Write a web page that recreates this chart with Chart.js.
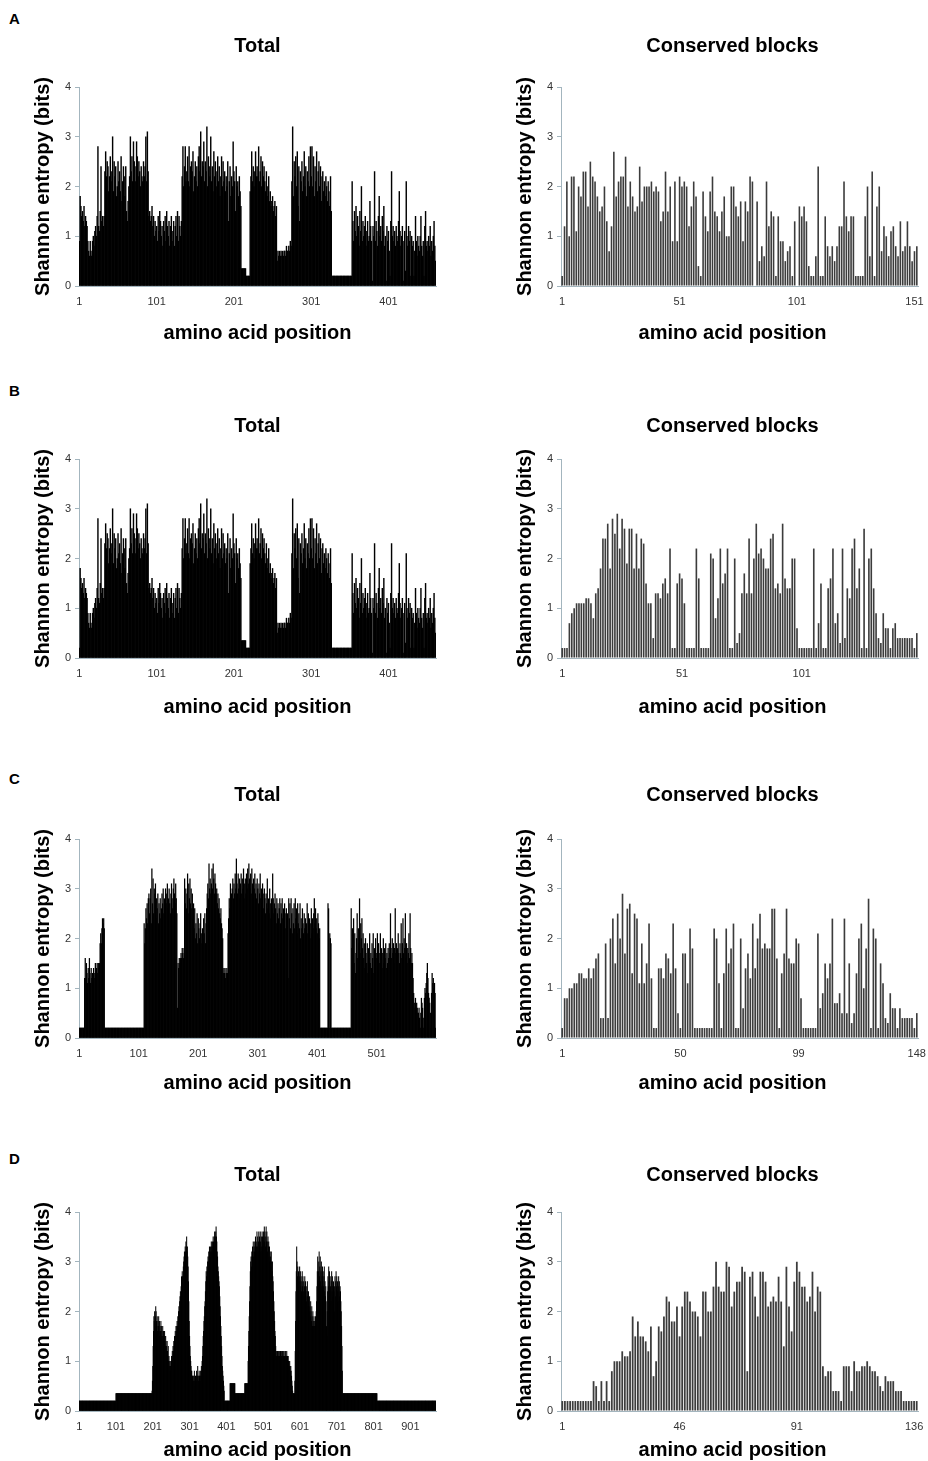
<!DOCTYPE html>
<html>
<head>
<meta charset="utf-8">
<script src="https://cdn.jsdelivr.net/npm/chart.js@4.4.0/dist/chart.umd.min.js"></script>
<style>
    html, body { margin: 0; padding: 0; background: #fff; }
    body { width: 928px; height: 1461px; position: relative; overflow: hidden; font-family: "Liberation Sans", Arial, sans-serif; }
    .panel-letter { position: absolute; left: 9px; font-size: 15px; font-weight: bold; line-height: 15px; }
    canvas { position: absolute; }
</style>
</head>
<body>
<div class="panel-letter" style="top:11px">A</div>
<div class="panel-letter" style="top:383px">B</div>
<div class="panel-letter" style="top:771px">C</div>
<div class="panel-letter" style="top:1151px">D</div>

<script>
// Shannon entropy per alignment position, in tenths of a bit
const totalA = [
    9,18,16,14,15,13,16,12,14,13, 12,9,7,6,9,7,6,9,10,8, 11,12,10,14,28,12,11,15,24,13,
    14,12,14,23,27,22,25,24,19,22, 26,21,23,30,19,25,22,24,18,20, 25,21,23,19,26,17,21,24,22,18,
    24,15,13,17,20,22,30,23,26,21, 29,25,24,21,29,26,22,25,23,20, 24,22,21,25,22,24,30,21,31,23,
    14,15,13,14,16,12,14,10,13,11, 12,9,14,11,15,13,10,12,8,13, 11,14,9,15,12,10,13,8,12,14,
    9,11,13,8,12,14,10,15,9,14, 12,10,13,22,28,20,24,28,21,23, 26,21,28,20,24,25,23,27,19,22,
    25,21,24,20,26,28,23,31,22,25, 24,29,21,25,23,32,20,26,24,22, 30,21,24,19,27,22,25,20,23,26,
    21,24,18,22,26,20,25,21,23,19, 22,20,25,13,21,24,18,22,20,29, 23,21,15,24,20,21,18,22,19,16,
    3.5,3.5,3.5,3.5,3.5,3.5,2,2,2,2, 2,19,22,27,21,24,20,23,27,22, 24,22,28,21,23,26,20,25,22,24,
    21,19,23,20,18,22,17,19,16,17, 18,15,16,17,14,16,5,7,6,7, 6,7,6,7,6,7,7,6,8,7,
    7,8,7,9,8,21,32,18,25,22, 26,20,27,16,24,13,23,21,25,19, 22,27,20,24,18,23,21,26,20,28,
    22,28,20,26,18,24,21,27,19,23, 25,20,24,17,22,23,19,21,18,22, 20,17,21,19,16,22,15,2,2,2,
    2,2,2,2,2,2,2,2,2,2, 2,2,2,2,2,2,2,2,2,2, 2,2,2,21,13,9,15,11,16,10,
    14,12,8,15,11,20,9,13,10,12, 14,8,11,13,9,10,17,12,9,1, 12,10,23,9,13,11,8,14,18,10,
    12,9,14,11,16,8,10,1,12,9, 11,7,2,13,23,10,12,9,11,8, 12,10,9,13,19,11,8,10,12,1,
    9,11,3,21,10,8,12,9,11,2, 10,8,9,2,7,14,9,6,10,8, 7,10,14,8,6,9,2,12,15,8,
    9,7,10,8,12,6,9,7,10,13, 8,5
];
const consA = [
    2,12,21,10,22,22,11,20,18,23, 23,16,25,22,21,18,15,16,20,13, 7,12,27,18,21,22,22,26,16,21,
    18,15,16,24,17,20,20,20,21,19, 20,19,13,15,23,15,20,9,21,9, 22,20,21,20,12,16,21,18,4,2,
    19,14,11,19,22,15,14,11,15,18, 10,10,20,20,16,14,17,9,17,15, 22,21,0,17,5,8,6,21,12,15,
    14,2,14,9,9,5,7,8,2,13, 0,16,14,16,13,4,2,2,6,24, 2,2,14,8,6,8,5,8,12,12,
    21,14,11,14,14,2,2,2,2,14, 20,6,23,2,16,20,7,12,10,6, 11,12,8,6,13,7,8,13,8,5,
    7,8
];
// panel B uses the same full-length alignment as A, only position 1 differs
const totalB = [2].concat(totalA.slice(1));
const consB = [
    2,2,2,7,9,10,11,11,11,11, 12,12,11,8,13,14,18,24,24,27, 18,28,25,29,22,28,26,19,26,26,
    18,25,18,24,23,15,11,11,4,13, 13,12,15,16,13,22,2,2,15,17, 16,11,2,2,2,2,22,16,2,2,
    2,2,21,20,8,12,22,15,17,22, 2,2,20,3,5,13,17,13,24,13, 20,27,21,22,20,18,18,24,25,14,
    15,13,27,16,14,14,20,20,6,2, 2,2,2,2,2,22,2,7,15,2, 2,14,16,22,7,9,3,22,4,14,
    12,22,24,14,18,2,26,2,20,22, 14,9,4,3,9,6,6,2,6,7, 4,4,4,4,4,4,4,2,5
];
const totalC = [
    2,2,2,2,2,2,2,2,2,12, 16,12,15,13,11,14,12,16,13,11, 14,12,13,11,14,13,12,15,13,14,
    15,13,15,14,15,19,21,19,22,24, 23,24,22,2,2,2,2,2,2,2, 2,2,2,2,2,2,2,2,2,2,
    2,2,2,2,2,2,2,2,2,2, 2,2,2,2,2,2,2,2,2,2, 2,2,2,2,2,2,2,2,2,2,
    2,2,2,2,2,2,2,2,2,2, 2,2,2,2,2,2,2,2,2,23, 19,22,26,24,27,23,28,29,25,28,
    30,23,34,27,32,25,30,29,31,24, 28,26,29,23,27,25,28,24,26,29, 27,30,25,28,26,30,27,29,31,26,
    28,30,27,25,29,31,28,26,30,32, 29,27,31,28,25,6,15,14,16,15, 16,17,16,18,17,16,18,32,27,30,
    26,29,33,25,31,28,32,27,30,26, 29,24,27,22,26,20,23,21,25,19, 24,22,20,23,25,21,19,22,20,24,
    21,25,19,23,26,29,31,28,35,30, 32,29,31,34,30,35,32,29,33,31, 29,30,27,29,26,28,25,24,26,23,
    22,20,13,14,13,14,12,13,14,13, 21,24,28,26,31,27,29,30,32,28, 31,29,33,30,36,31,29,33,30,32,
    28,31,33,29,32,30,34,28,31,32, 29,33,30,34,31,35,32,30,33,29, 34,31,28,32,30,33,29,31,28,32,
    30,27,31,29,33,28,30,27,31,29, 26,30,28,25,29,27,32,26,28,25, 30,27,24,28,26,33,28,25,27,29,
    26,23,28,25,27,24,26,28,23,27, 25,28,24,26,23,27,25,22,26,24, 25,12,28,24,27,22,28,25,21,26,
    23,27,22,28,24,26,21,27,23,25, 22,27,20,24,22,26,23,21,25,22, 24,20,23,27,21,25,22,24,20,23,
    26,21,24,22,25,28,23,26,22,24, 21,25,23,20,22,2,2,2,2,2, 2,2,2,2,2,2,2,2,27,26,
    2,21,20,19,2,2,2,2,2,2, 2,2,2,2,2,2,2,2,2,2, 2,2,2,2,2,2,2,2,2,2,
    2,2,2,2,2,2,2,26,18,22, 19,24,15,21,13,17,20,25,16,22, 19,28,17,23,20,24,18,21,16,19,
    14,20,17,15,19,13,18,16,21,15, 17,14,19,16,21,13,18,15,20,17, 16,21,14,19,17,15,21,16,18,14,
    17,20,15,18,16,19,14,17,15,18, 16,19,17,25,18,16,20,17,19,15, 18,26,17,19,16,18,21,17,15,19,
    17,23,16,19,24,17,20,18,25,16, 19,15,18,17,21,16,25,18,15,17, 15,12,9,7,6,8,6,7,6,5,
    5,6,4,2,5,8,7,6,2,4, 8,10,9,11,13,15,12,9,8,7, 5,2,9,13,11,12,10,11,9,2
];
const consC = [
    2,8,8,10,10,11,11,13,13,12, 12,14,12,14,16,17,4,4,19,4, 20,24,15,25,20,29,17,26,27,13,
    25,24,11,19,11,15,23,12,2,2, 14,14,12,17,16,13,23,14,5,2, 17,17,11,22,18,2,2,2,2,2,
    2,2,2,22,20,11,2,13,22,15, 18,23,2,2,20,6,14,17,12,23, 14,20,25,18,19,18,18,26,26,16,
    2,13,17,26,16,15,15,20,19,8, 2,2,2,2,2,2,21,6,9,15, 12,15,24,7,7,9,5,24,5,15,
    3,5,13,20,23,10,18,28,2,22, 20,2,15,11,4,3,9,6,6,2, 6,4,4,4,4,4,2,5
];
const totalD = [
    2,2,2,2,2,2,2,2,2,2, 2,2,2,2,2,2,2,2,2,2, 2,2,2,2,2,2,2,2,2,2,
    2,2,2,2,2,2,2,2,2,2, 2,2,2,2,2,2,2,2,2,2, 2,2,2,2,2,2,2,2,2,2,
    2,2,2,2,2,2,2,2,2,2, 2,2,2,2,2,2,2,2,2,2, 2,2,2,2,2,2,2,2,2,2,
    2,2,2,2,2,2,2,2,2,2,
    3.5,3.5,3.5,3.5,3.5,3.5,3.5,3.5,3.5,3.5, 3.5,3.5,3.5,3.5,3.5,3.5,3.5,3.5,3.5,3.5,
    3.5,3.5,3.5,3.5,3.5,3.5,3.5,3.5,3.5,3.5, 3.5,3.5,3.5,3.5,3.5,3.5,3.5,3.5,3.5,3.5,
    3.5,3.5,3.5,3.5,3.5,3.5,3.5,3.5,3.5,3.5, 3.5,3.5,3.5,3.5,3.5,3.5,3.5,3.5,3.5,3.5,
    3.5,3.5,3.5,3.5,3.5,3.5,3.5,3.5,3.5,3.5, 3.5,3.5,3.5,3.5,3.5,3.5,3.5,3.5,3.5,3.5,
    3.5,3.5,3.5,3.5,3.5,3.5,3.5,3.5,3.5,3.5, 3.5,3.5,3.5,3.5,3.5,3.5,3.5,3.5,4,6,
    9,13,16,19,18,20,17,19,21,20, 18,17,19,16,18,17,19,16,18,15, 17,16,18,15,17,16,15,17,14,16,
    15,14,16,15,13,15,14,13,12,14, 12,11,13,10,11,9,10,8,9,10, 10,11,10,12,11,13,12,14,13,15,
    14,16,15,17,16,17,18,17,19,18, 20,21,20,22,23,24,23,25,27,26, 28,27,27,29,30,31,32,31,33,32,
    34,33,35,32,33,31,29,26,22,18, 15,13,11,10,9,8,8,7,7,6, 7,6,7,8,6,5,7,6,7,8,
    6,7,9,7,6,7,8,7,6,7, 8,7,9,8,10,11,13,15,16,18, 19,21,22,24,26,28,27,29,28,30,
    31,30,32,31,33,32,31,33,32,34, 33,32,34,33,35,34,33,35,36,34, 35,36,37,35,34,32,31,29,28,27,
    26,25,23,21,19,17,15,13,11,9, 8,7,6,5,4,2,2,2,2,2, 2,2,2,2,2,2,2,2,2,2,
    5.5,5.5,5.5,5.5,5.5,5.5,5.5,5.5,5.5,5.5, 5.5,5.5,5.5,5.5,3.5,3.5,3.5,3.5,3.5,3.5,
    3.5,3.5,3.5,3.5,3.5,3.5,3.5,3.5,3.5,3.5, 3.5,3.5,3.5,3.5,3.5,3.5,3.5,3.5,3.5,3.5,
    5.5,5.5,5.5,5.5,5.5,5.5,5.5,5.5,5.5,10, 13,16,19,22,25,28,30,31,29,32,
    31,33,32,34,31,33,32,34,33,35, 32,34,33,36,33,35,32,34,36,33, 35,33,36,34,32,35,33,36,35,33,
    34,36,35,37,34,36,33,35,37,34, 36,34,32,35,33,34,31,33,30,32, 31,29,32,30,28,30,27,26,24,22,
    20,18,16,15,13,12,11,12,11,12, 11,12,11,12,11,12,11,12,11,12, 11,12,12,11,12,11,12,11,11,12,
    11,12,11,11,12,10,11,10,11,10, 10,9,10,9,8,9,8,7,6,5, 4,3.5,3.5,3.5,3.5,3.5,6,12,18,24,
    28,33,30,27,29,26,28,25,27,29, 26,28,25,27,24,26,28,25,27,24, 26,23,25,27,24,26,23,25,22,24,
    26,23,21,24,22,20,23,21,19,22, 20,18,21,19,17,20,18,17,19,17, 18,17,19,18,20,22,25,28,31,26,
    28,30,32,27,29,31,26,28,30,25, 27,29,26,28,25,27,29,24,26,23, 25,22,17,15,20,24,27,25,29,26,
    28,24,27,25,22,26,28,24,27,25, 23,26,24,20,25,27,23,26,28,25, 27,24,26,22,25,27,24,26,23,25,
    24,22,20,17,13,8,3.5,3.5,3.5,3.5,
    3.5,3.5,3.5,3.5,3.5,3.5,3.5,3.5,3.5,3.5, 3.5,3.5,3.5,3.5,3.5,3.5,3.5,3.5,3.5,3.5,
    3.5,3.5,3.5,3.5,3.5,3.5,3.5,3.5,3.5,3.5, 3.5,3.5,3.5,3.5,3.5,3.5,3.5,3.5,3.5,3.5,
    3.5,3.5,3.5,3.5,3.5,3.5,3.5,3.5,3.5,3.5, 3.5,3.5,3.5,3.5,3.5,3.5,3.5,3.5,3.5,3.5,
    3.5,3.5,3.5,3.5,3.5,3.5,3.5,3.5,3.5,3.5, 3.5,3.5,3.5,3.5,3.5,3.5,3.5,3.5,3.5,3.5,
    3.5,3.5,3.5,3.5,3.5,3.5,3.5,3.5,3.5,3.5,
    2,2,2,2,2,2,2,2,2,2, 2,2,2,2,2,2,2,2,2,2, 2,2,2,2,2,2,2,2,2,2,
    2,2,2,2,2,2,2,2,2,2, 2,2,2,2,2,2,2,2,2,2, 2,2,2,2,2,2,2,2,2,2,
    2,2,2,2,2,2,2,2,2,2, 2,2,2,2,2,2,2,2,2,2, 2,2,2,2,2,2,2,2,2,2,
    2,2,2,2,2,2,2,2,2,2, 2,2,2,2,2,2,2,2,2,2, 2,2,2,2,2,2,2,2,2,2,
    2,2,2,2,2,2,2,2,2,2, 2,2,2,2,2,2,2,2,2,2, 2,2,2,2,2,2,2,2,2,2,
    2,2,2,2,2,2,2,2,2,2
];
const consD = [
    2,2,2,2,2,2,2,2,2,2, 2,2,6,5,2,6,2,6,2,8, 10,10,10,12,11,11,12,19,15,18,
    15,15,14,12,17,7,10,17,16,19, 23,22,18,18,21,15,21,24,24,22, 20,20,19,15,24,24,20,20,25,30,
    25,24,24,30,29,21,24,26,26,29, 28,8,27,28,23,19,28,28,26,21, 22,23,22,27,22,13,29,21,16,26,
    30,28,25,25,22,23,28,20,25,24, 9,7,8,8,4,4,4,2,9,9, 9,4,10,8,8,9,9,10,9,8,
    8,7,5,4,7,6,6,6,4,4, 4,2,2,2,2,2,2
];

const yTicks = [0, 1, 2, 3, 4];
const totalTickStep = 100;

const panels = [
    { titleY: 46, plotTop: 87, plotBottom: 286, xTitleY: 333, total: totalA, cons: consA, consStep: 50 },
    { titleY: 426, plotTop: 459, plotBottom: 658, xTitleY: 707, total: totalB, cons: consB, consStep: 50 },
    { titleY: 795, plotTop: 839, plotBottom: 1038, xTitleY: 1083, total: totalC, cons: consC, consStep: 49 },
    { titleY: 1175, plotTop: 1212, plotBottom: 1411, xTitleY: 1450, total: totalD, cons: consD, consStep: 45 },
];

const AXIS_COLOR = '#a3b5be';
const TICK_COLOR = '#333';
const FONT = '"Liberation Sans", Arial, sans-serif';

Chart.defaults.font.family = FONT;

// chart title and x-axis title, centred over the plot (the right column sits a bit left of centre)
const panelTitles = {
    id: 'panelTitles',
    afterDraw(chart, args, opts) {
        const { ctx, chartArea } = chart;
        const x = (chartArea.left + chartArea.right) / 2 + opts.shift;
        ctx.save();
        ctx.font = 'bold 20px ' + FONT;
        ctx.fillStyle = '#000';
        ctx.textAlign = 'center';
        ctx.textBaseline = 'middle';
        ctx.fillText(opts.title, x, opts.titleY);
        ctx.fillText(opts.xTitle, x, opts.xTitleY);
        ctx.restore();
    },
};

panels.forEach(p => {
    renderEntropyChart(p, 'Total', p.total, totalTickStep, 20, 0, '#000', 1);
    renderEntropyChart(p, 'Conserved blocks', p.cons, p.consStep, 502, -7, '#3c3c3c', 0.68);
});

function renderEntropyChart(p, title, values, step, left, shift, color, barPct) {
    const top = p.titleY - 16;
    const bottom = p.xTitleY + 17;
    const canvas = document.createElement('canvas');
    canvas.width = 426;
    canvas.height = bottom - top;
    canvas.style.left = left + 'px';
    canvas.style.top = top + 'px';
    document.body.appendChild(canvas);

    const labels = values.map((v, i) => String(i + 1));

    new Chart(canvas.getContext('2d'), {
        type: 'bar',
        data: {
            labels: labels,
            datasets: [{
                data: values.map(v => v / 10),
                backgroundColor: color,
                borderWidth: 0,
                barPercentage: barPct,
                categoryPercentage: 1,
            }],
        },
        plugins: [panelTitles],
        options: {
            responsive: false,
            animation: false,
            devicePixelRatio: 1,
            layout: { padding: { top: p.plotTop - top, right: 10 } },
            plugins: {
                legend: { display: false },
                tooltip: { enabled: false },
                panelTitles: {
                    title: title,
                    xTitle: 'amino acid position',
                    shift: shift,
                    titleY: p.titleY - top,
                    xTitleY: p.xTitleY - top,
                },
            },
            scales: {
                x: {
                    grid: { display: false, drawTicks: false },
                    border: { color: AXIS_COLOR },
                    ticks: {
                        autoSkip: false,
                        maxRotation: 0,
                        minRotation: 0,
                        padding: 9,
                        color: TICK_COLOR,
                        font: { size: 11 },
                        callback: (v, i) => (i % step === 0 ? labels[i] : ''),
                    },
                    afterFit: scale => {
                        scale.height = bottom - p.plotBottom;
                        scale.paddingLeft = 0;
                        scale.paddingRight = 0;
                    },
                },
                y: {
                    min: 0,
                    max: 4,
                    afterBuildTicks: scale => { scale.ticks = yTicks.map(v => ({ value: v })); },
                    grid: { drawOnChartArea: false, tickLength: 4, color: AXIS_COLOR },
                    border: { color: AXIS_COLOR },
                    ticks: { padding: 4, color: TICK_COLOR, font: { size: 11 } },
                    title: {
                        display: true,
                        text: 'Shannon entropy (bits)',
                        color: '#000',
                        font: { size: 20, weight: 'bold' },
                        padding: { top: 11, bottom: 0 },
                    },
                    afterFit: scale => { scale.width = 59; },
                },
            },
        },
    });
}
</script>
</body>
</html>
